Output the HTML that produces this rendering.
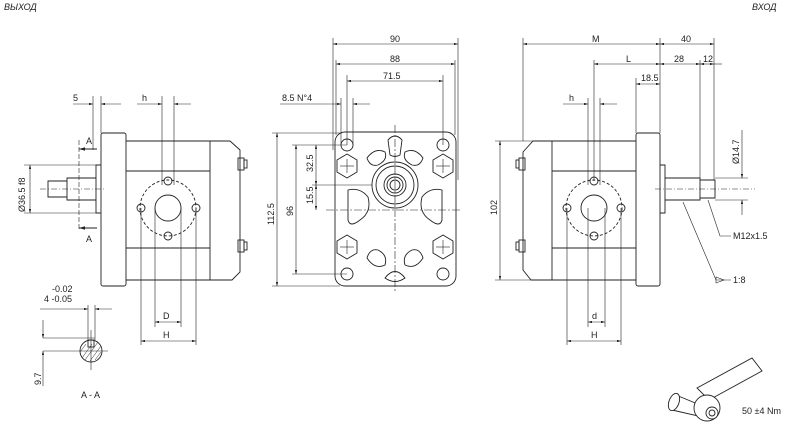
<!DOCTYPE html>
<html><head><meta charset="utf-8"><style>
html,body{margin:0;padding:0;background:#fff;width:800px;height:432px;overflow:hidden}
svg{display:block}
text{font-family:"Liberation Sans","DejaVu Sans",sans-serif;font-size:9px;fill:#222}
</style></head><body>
<svg width="800" height="432" viewBox="0 0 800 432" xmlns="http://www.w3.org/2000/svg">
<defs>
<marker id="a" viewBox="0 0 10 6" refX="10" refY="3" markerWidth="8" markerHeight="4" orient="auto-start-reverse"><path d="M0,0L10,3L0,6z" fill="#222"/></marker>
</defs>
<g stroke="#222" fill="none" stroke-width="0.9">
<!-- LEFT VIEW -->
<rect x="101" y="133" width="25" height="153" rx="2"/>
<path d="M126,141H230L240,150V272L232,280H126"/>
<line x1="210" y1="141" x2="210" y2="280"/>
<line x1="126" y1="171" x2="210" y2="171"/><line x1="126" y1="248" x2="210" y2="248"/>
<rect x="238" y="158" width="6" height="12"/><rect x="244" y="160" width="3" height="8"/>
<rect x="238" y="240" width="6" height="12"/><rect x="244" y="242" width="3" height="8"/>
<circle cx="168" cy="208" r="28" stroke-dasharray="3,2"/>
<circle cx="168" cy="208" r="13"/>
<circle cx="168" cy="181" r="4"/><circle cx="168" cy="236" r="4"/><circle cx="141" cy="208" r="4"/><circle cx="196" cy="208" r="4"/>
<path d="M101,165H96V213H101"/>
<path d="M96,178H67V200H96"/><path d="M67,181H48V197H67"/>
<line x1="40" y1="189" x2="105" y2="189" stroke-dasharray="6,2,1,2" stroke-width="0.6"/>
<line x1="79" y1="140" x2="79" y2="230" stroke-dasharray="5,2" stroke-width="0.6"/>
<line x1="79" y1="149" x2="97" y2="149" marker-start="url(#a)"/>
<line x1="79" y1="228" x2="97" y2="228" marker-start="url(#a)"/>
<g stroke-width="0.6">
<line x1="93" y1="96" x2="93" y2="150"/><line x1="101" y1="96" x2="101" y2="133"/>
<line x1="73" y1="104" x2="93" y2="104" marker-end="url(#a)"/><line x1="121" y1="104" x2="101" y2="104" marker-end="url(#a)"/>
<line x1="162" y1="96" x2="162" y2="185"/><line x1="174" y1="96" x2="174" y2="185"/>
<line x1="137" y1="104" x2="162" y2="104" marker-end="url(#a)"/><line x1="191" y1="104" x2="174" y2="104" marker-end="url(#a)"/>
<line x1="24" y1="165" x2="96" y2="165"/><line x1="24" y1="213" x2="96" y2="213"/>
<line x1="30" y1="165" x2="30" y2="213" marker-start="url(#a)" marker-end="url(#a)"/>
<line x1="141" y1="208" x2="141" y2="345"/><line x1="155" y1="208" x2="155" y2="327"/>
<line x1="181" y1="208" x2="181" y2="327"/><line x1="196" y1="208" x2="196" y2="345"/>
<line x1="155" y1="322" x2="181" y2="322" marker-start="url(#a)" marker-end="url(#a)"/>
<line x1="141" y1="341" x2="196" y2="341" marker-start="url(#a)" marker-end="url(#a)"/>
<line x1="40" y1="309" x2="88" y2="309" marker-end="url(#a)"/><line x1="112" y1="309" x2="95" y2="309" marker-end="url(#a)"/>
<line x1="88" y1="305" x2="88" y2="340"/><line x1="95" y1="305" x2="95" y2="340"/>
<line x1="43" y1="338" x2="95" y2="338"/><line x1="43" y1="351" x2="108" y2="351"/>
<line x1="43" y1="320" x2="43" y2="338" marker-end="url(#a)"/><line x1="43" y1="386" x2="43" y2="351" marker-end="url(#a)"/>
<line x1="91" y1="330" x2="91" y2="370"/>
</g>
<circle cx="91" cy="351" r="11"/>
<rect x="88" y="340" width="6" height="7"/>
<path d="M82,358L92,344M85,360L98,342M90,361L101,346M95,360L101,352M80,352L86,344" stroke-width="0.5"/>
<!-- MIDDLE VIEW -->
<rect x="335" y="132" width="121" height="154" rx="10"/>
<line x1="395" y1="125" x2="395" y2="292" stroke-dasharray="8,2,2,2" stroke-width="0.6"/>
<line x1="326" y1="210" x2="462" y2="210" stroke-dasharray="8,2,2,2" stroke-width="0.6"/>
<circle cx="395" cy="185" r="23"/><circle cx="395" cy="185" r="19"/>
<circle cx="395" cy="185" r="11"/><circle cx="395" cy="185" r="8"/><circle cx="395" cy="185" r="5"/>
<circle cx="347" cy="145" r="6"/><circle cx="443" cy="145" r="6"/><circle cx="347" cy="274" r="6"/><circle cx="443" cy="274" r="6"/>
<polygon points="347,154 357,160 357,172 347,178 337,172 337,160"/>
<polygon points="443,154 453,160 453,172 443,178 433,172 433,160"/>
<polygon points="347,235 357,241 357,253 347,259 337,253 337,241"/>
<polygon points="443,235 453,241 453,253 443,259 433,253 433,241"/>
<g stroke-width="0.6">
<line x1="340" y1="166" x2="354" y2="166"/><line x1="347" y1="159" x2="347" y2="173"/>
<line x1="436" y1="166" x2="450" y2="166"/><line x1="443" y1="159" x2="443" y2="173"/>
<line x1="340" y1="247" x2="354" y2="247"/><line x1="347" y1="240" x2="347" y2="254"/>
<line x1="436" y1="247" x2="450" y2="247"/><line x1="443" y1="240" x2="443" y2="254"/>
</g>
<path d="M367,158Q375,147 385,152Q388,160 378,165Q370,167 367,158z"/>
<path d="M423,158Q415,147 405,152Q402,160 412,165Q420,167 423,158z"/>
<path d="M388,140Q395,132 402,140L400,155Q395,158 390,155z"/>
<path d="M348,190Q360,187 368,197Q372,212 360,220Q350,228 348,220z"/>
<path d="M442,190Q430,187 422,197Q418,212 430,220Q440,228 442,220z"/>
<path d="M367,258Q375,270 385,265Q388,255 378,250Q370,248 367,258z"/>
<path d="M423,258Q415,270 405,265Q402,255 412,250Q420,248 423,258z"/>
<path d="M385,278Q395,265 405,278Q395,285 385,278z"/>
<g stroke-width="0.6">
<line x1="333" y1="38" x2="333" y2="150"/><line x1="458" y1="38" x2="458" y2="180"/>
<line x1="336" y1="60" x2="336" y2="135"/><line x1="455" y1="60" x2="455" y2="135"/>
<line x1="347" y1="75" x2="347" y2="145"/><line x1="443" y1="75" x2="443" y2="145"/>
<line x1="333" y1="44" x2="458" y2="44" marker-start="url(#a)" marker-end="url(#a)"/>
<line x1="336" y1="64" x2="455" y2="64" marker-start="url(#a)" marker-end="url(#a)"/>
<line x1="347" y1="81" x2="443" y2="81" marker-start="url(#a)" marker-end="url(#a)"/>
<line x1="341" y1="98" x2="341" y2="145"/><line x1="353" y1="98" x2="353" y2="145"/>
<line x1="280" y1="104" x2="341" y2="104" marker-end="url(#a)"/><line x1="370" y1="104" x2="353" y2="104" marker-end="url(#a)"/>
<line x1="272" y1="133" x2="340" y2="133"/><line x1="272" y1="286" x2="340" y2="286"/>
<line x1="277" y1="133" x2="277" y2="286" marker-start="url(#a)" marker-end="url(#a)"/>
<line x1="292" y1="145" x2="347" y2="145"/><line x1="292" y1="274" x2="347" y2="274"/>
<line x1="296" y1="145" x2="296" y2="274" marker-start="url(#a)" marker-end="url(#a)"/>
<line x1="312" y1="185" x2="372" y2="185"/>
<line x1="316" y1="145" x2="316" y2="185" marker-start="url(#a)" marker-end="url(#a)"/>
<line x1="316" y1="185" x2="316" y2="210" marker-start="url(#a)" marker-end="url(#a)"/>
</g>
<!-- RIGHT VIEW -->
<rect x="636" y="133" width="24" height="153" rx="2"/>
<path d="M636,141H533L523,152V270L531,280H636"/>
<line x1="552" y1="141" x2="552" y2="280"/>
<line x1="552" y1="171" x2="636" y2="171"/><line x1="552" y1="248" x2="636" y2="248"/>
<rect x="519" y="158" width="6" height="12"/><rect x="516" y="160" width="3" height="8"/>
<rect x="519" y="240" width="6" height="12"/><rect x="516" y="242" width="3" height="8"/>
<circle cx="594" cy="208" r="28" stroke-dasharray="3,2"/>
<circle cx="594" cy="208" r="13"/>
<circle cx="594" cy="181" r="4"/><circle cx="594" cy="236" r="4"/><circle cx="567" cy="208" r="4"/><circle cx="621" cy="208" r="4"/>
<path d="M660,165H665V213H660"/>
<path d="M665,178H700V200H665"/><path d="M700,180H715V198H700"/>
<line x1="655" y1="189" x2="755" y2="189" stroke-dasharray="6,2,1,2" stroke-width="0.6"/>
<g stroke-width="0.6">
<line x1="523" y1="38" x2="523" y2="141"/><line x1="660" y1="38" x2="660" y2="133"/><line x1="714" y1="38" x2="714" y2="180"/>
<line x1="523" y1="44" x2="660" y2="44" marker-start="url(#a)" marker-end="url(#a)"/>
<line x1="660" y1="44" x2="714" y2="44" marker-start="url(#a)" marker-end="url(#a)"/>
<line x1="594" y1="60" x2="594" y2="181"/><line x1="700" y1="60" x2="700" y2="178"/>
<line x1="594" y1="64" x2="660" y2="64" marker-start="url(#a)" marker-end="url(#a)"/>
<line x1="660" y1="64" x2="700" y2="64" marker-start="url(#a)" marker-end="url(#a)"/>
<line x1="700" y1="64" x2="714" y2="64" marker-start="url(#a)" marker-end="url(#a)"/>
<line x1="714" y1="64" x2="722" y2="64"/>
<line x1="636" y1="78" x2="636" y2="133"/>
<line x1="636" y1="84" x2="660" y2="84" marker-start="url(#a)" marker-end="url(#a)"/>
<line x1="588" y1="98" x2="588" y2="185"/><line x1="600" y1="98" x2="600" y2="185"/>
<line x1="563" y1="104" x2="588" y2="104" marker-end="url(#a)"/><line x1="617" y1="104" x2="600" y2="104" marker-end="url(#a)"/>
<line x1="495" y1="141" x2="533" y2="141"/><line x1="495" y1="280" x2="531" y2="280"/>
<line x1="500" y1="141" x2="500" y2="280" marker-start="url(#a)" marker-end="url(#a)"/>
<line x1="715" y1="178" x2="748" y2="178"/><line x1="715" y1="200" x2="748" y2="200"/>
<line x1="742" y1="130" x2="742" y2="178" marker-end="url(#a)"/><line x1="742" y1="215" x2="742" y2="200" marker-end="url(#a)"/>
<polyline points="708,200 720,236 731,236"/>
<polyline points="683,202 716,280 731,280"/>
<path d="M716,277L724,280L716,283z"/>
<line x1="567" y1="208" x2="567" y2="345"/><line x1="588" y1="208" x2="588" y2="327"/>
<line x1="605" y1="208" x2="605" y2="327"/><line x1="621" y1="208" x2="621" y2="345"/>
<line x1="588" y1="322" x2="605" y2="322" marker-start="url(#a)" marker-end="url(#a)"/>
<line x1="567" y1="341" x2="621" y2="341" marker-start="url(#a)" marker-end="url(#a)"/>
</g>
<!-- wrench -->
<g fill="#fff">
<path d="M676,395L700,405L698,416L672,410z"/>
<ellipse cx="674" cy="402" rx="5" ry="9" transform="rotate(20 674 402)"/>
<path d="M697,388L752,358L762,371L709,400z"/>
<circle cx="707" cy="408" r="13"/>
<circle cx="712" cy="413" r="6"/>
<circle cx="712" cy="413" r="3"/>
</g>
</g>
<text x="4" y="10" font-style="italic" font-size="8">ВЫХОД</text>
<text x="752" y="10" font-style="italic" font-size="8">ВХОД</text>
<text x="73" y="101">5</text>
<text x="142" y="101">h</text>
<text x="86" y="144">A</text><text x="86" y="242">A</text>
<text transform="translate(25,212) rotate(-90)">Ø36.5 f8</text>
<text x="163" y="319">D</text><text x="163" y="338">H</text>
<text x="52" y="292" font-size="8">-0.02</text>
<text x="44" y="302" font-size="8">4 -0.05</text>
<text transform="translate(41,385) rotate(-90)">9.7</text>
<text x="81" y="398">A - A</text>
<text x="390" y="42">90</text><text x="390" y="62">88</text><text x="383" y="79">71.5</text>
<text x="282" y="101">8.5 N°4</text>
<text transform="translate(274,225) rotate(-90)">112.5</text>
<text transform="translate(293,216) rotate(-90)">96</text>
<text transform="translate(313,172) rotate(-90)">32.5</text>
<text transform="translate(313,204) rotate(-90)">15.5</text>
<text x="592" y="42">M</text><text x="681" y="42">40</text>
<text x="626" y="62">L</text><text x="674" y="62">28</text><text x="703" y="62">12</text>
<text x="641" y="81">18.5</text>
<text x="569" y="101">h</text>
<text transform="translate(497,215) rotate(-90)">102</text>
<text transform="translate(739,164) rotate(-90)">Ø14.7</text>
<text x="733" y="239">M12x1.5</text>
<text x="733" y="283">1:8</text>
<text x="592" y="319">d</text><text x="591" y="338">H</text>
<text x="742" y="414">50 ±4 Nm</text>
</svg>
</body></html>
